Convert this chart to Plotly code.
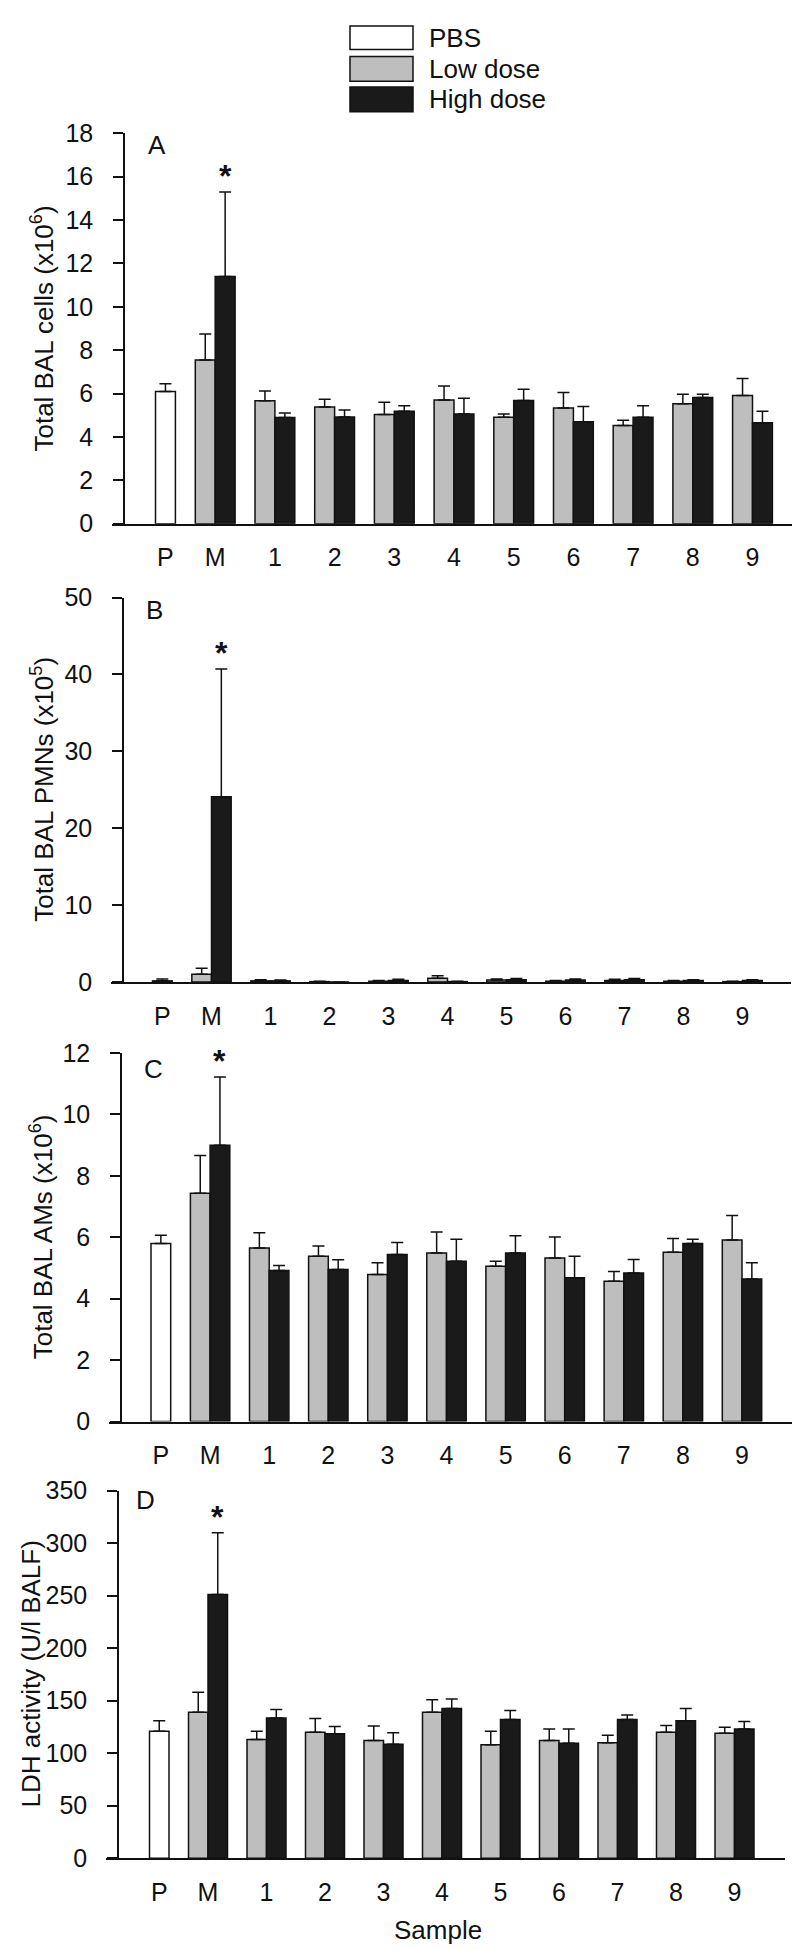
import plotly.graph_objects as go

# ---------------- data ----------------
categories = ["P", "M", "1", "2", "3", "4", "5", "6", "7", "8", "9"]
series_names = ["PBS", "Low dose", "High dose"]

# Panel A: Total BAL cells (x10^6)
pbs_A = [6.1] + [None] * 10
pbs_A_err = [0.35] + [0] * 10
low_A = [None, 7.55, 5.67, 5.38, 5.03, 5.71, 4.91, 5.33, 4.53, 5.53, 5.91]
low_A_err = [0, 1.2, 0.45, 0.36, 0.57, 0.64, 0.15, 0.72, 0.24, 0.44, 0.79]
high_A = [None, 11.4, 4.9, 4.92, 5.18, 5.06, 5.68, 4.7, 4.91, 5.82, 4.65]
high_A_err = [0, 3.9, 0.2, 0.32, 0.26, 0.73, 0.52, 0.71, 0.53, 0.15, 0.53]

# Panel B: Total BAL PMNs (x10^5)
pbs_B = [0.15] + [None] * 10
pbs_B_err = [0.25] + [0] * 10
low_B = [None, 1.0, 0.15, 0.05, 0.1, 0.5, 0.25, 0.1, 0.2, 0.1, 0.05]
low_B_err = [0, 0.8, 0.15, 0.05, 0.1, 0.3, 0.15, 0.1, 0.15, 0.1, 0.05]
high_B = [None, 24.1, 0.15, 0.0, 0.2, 0.05, 0.3, 0.25, 0.3, 0.2, 0.2]
high_B_err = [0, 16.6, 0.1, 0.0, 0.15, 0.05, 0.15, 0.15, 0.15, 0.1, 0.1]

# Panel C: Total BAL AMs (x10^6)
pbs_C = [5.8] + [None] * 10
pbs_C_err = [0.27] + [0] * 10
low_C = [None, 7.43, 5.65, 5.38, 4.79, 5.49, 5.06, 5.33, 4.57, 5.51, 5.91]
low_C_err = [0, 1.23, 0.5, 0.34, 0.38, 0.68, 0.16, 0.68, 0.32, 0.45, 0.8]
high_C = [None, 9.0, 4.92, 4.95, 5.44, 5.22, 5.49, 4.68, 4.84, 5.8, 4.64]
high_C_err = [0, 2.22, 0.16, 0.32, 0.39, 0.72, 0.56, 0.7, 0.44, 0.14, 0.53]

# Panel D: LDH activity (U/l BALF)
pbs_D = [121] + [None] * 10
pbs_D_err = [10] + [0] * 10
low_D = [None, 139, 113, 120, 112, 139, 108, 112, 110, 120, 119]
low_D_err = [0, 19, 8, 13, 14, 12, 13, 11, 7, 6.5, 5.7]
high_D = [None, 251, 133.5, 118.5, 108.5, 142.5, 132, 109.5, 132, 131, 123]
high_D_err = [0, 59, 8, 7, 11, 9, 8.6, 13.6, 4.3, 11.5, 7.2]

y_titles = ["Total BAL cells (x10<sup>6</sup>)", "Total BAL PMNs (x10<sup>5</sup>)",
            "Total BAL AMs (x10<sup>6</sup>)", "LDH activity (U/l BALF)"]
panel_letters = ["A", "B", "C", "D"]
y_max = [18, 50, 12, 350]
y_dtick = [2, 10, 2, 50]
x_title = "Sample"

panels_data = [
    (pbs_A, pbs_A_err, low_A, low_A_err, high_A, high_A_err),
    (pbs_B, pbs_B_err, low_B, low_B_err, high_B, high_B_err),
    (pbs_C, pbs_C_err, low_C, low_C_err, high_C, high_C_err),
    (pbs_D, pbs_D_err, low_D, low_D_err, high_D, high_D_err),
]

# ---------------- layout geometry (pixels) ----------------
W, H = 800, 1950
geom = [
    dict(yx=116, xs=104, xe=795, pc=147.5, sp=59.7, yt=113, y0=509, tx=35, lx=149, ly=125),
    dict(yx=115, xs=103, xe=783, pc=144.5, sp=59.0, yt=584, y0=974, tx=35, lx=146, ly=597),
    dict(yx=113, xs=101, xe=788, pc=143.0, sp=59.1, yt=1046, y0=1420, tx=33, lx=145, ly=1062),
    dict(yx=110, xs=98, xe=777, pc=141.5, sp=58.5, yt=1490, y0=1863, tx=23, lx=137, ly=1500),
]

FONT = "Liberation Sans, Arial, Helvetica, sans-serif"
TICK_SIZE = 25
TITLE_SIZE = 26
BAR_W = 1 / 3
colors = {"PBS": "#ffffff", "Low dose": "#bebebe", "High dose": "#1a1a1a"}
offsets = {"PBS": 0.0, "Low dose": -BAR_W, "High dose": 0.0}

xpos = list(range(len(categories)))

fig = go.Figure()
layout_axes = {}
annotations = []

for i, (data, g) in enumerate(zip(panels_data, geom)):
    xa = "x" if i == 0 else f"x{i+1}"
    ya = "y" if i == 0 else f"y{i+1}"
    series = [(series_names[0], data[0], data[1]),
              (series_names[1], data[2], data[3]),
              (series_names[2], data[4], data[5])]
    for name, vals, errs in series:
        fig.add_trace(go.Bar(
            x=xpos, y=vals, name=name, showlegend=False,
            width=BAR_W, offset=offsets[name],
            marker=dict(color=colors[name], line=dict(color="#111111", width=1.5)),
            error_y=dict(type="data", symmetric=False, array=errs,
                         arrayminus=[0] * len(errs), color="#111111",
                         thickness=1.5, width=6),
            xaxis=xa, yaxis=ya,
        ))
    r0 = (g["xs"] - g["pc"]) / g["sp"]
    r1 = (g["xe"] - g["pc"]) / g["sp"]
    tickvals = [xpos[0] + BAR_W / 2] + xpos[1:]
    layout_axes["xaxis" if i == 0 else f"xaxis{i+1}"] = dict(
        domain=[g["xs"] / W, g["xe"] / W], range=[r0, r1], anchor=ya,
        showline=True, linecolor="#111111", linewidth=1.5, ticks="",
        tickvals=tickvals, ticktext=categories, showgrid=False, zeroline=False,
        tickfont=dict(size=TICK_SIZE, family=FONT, color="#111111"), ticklabelstandoff=11,
        fixedrange=True,
    )
    layout_axes["yaxis" if i == 0 else f"yaxis{i+1}"] = dict(
        domain=[1 - g["y0"] / H, 1 - g["yt"] / H], range=[0, y_max[i]], dtick=y_dtick[i],
        anchor="free", position=g["yx"] / W,
        showline=True, linecolor="#111111", linewidth=1.5, ticks="outside",
        ticklen=10, tickwidth=1.5, tickcolor="#111111", showgrid=False, zeroline=False,
        tickfont=dict(size=TICK_SIZE, family=FONT, color="#111111"), ticklabelstandoff=15,
        fixedrange=True,
    )
    annotations.append(dict(
        text=y_titles[i], textangle=-90, xref="paper", yref="paper",
        x=g["tx"] / W, y=1 - (g["yt"] + g["y0"]) / 2 / H, xanchor="center", yanchor="middle",
        showarrow=False, font=dict(size=TITLE_SIZE, family=FONT, color="#111111"),
    ))
    annotations.append(dict(
        text=panel_letters[i], xref="paper", yref="paper",
        x=g["lx"] / W, y=1 - g["ly"] / H, xanchor="center", yanchor="middle",
        showarrow=False, font=dict(size=TITLE_SIZE, family=FONT, color="#111111"),
    ))
    annotations.append(dict(
        text="<b>*</b>", xref=xa, yref=ya,
        x=xpos[1] + BAR_W / 2, y=data[4][1] + data[5][1], xanchor="center", yanchor="bottom",
        yshift=-4, showarrow=False, font=dict(size=32, family=FONT, color="#111111"),
    ))

# x-axis title under the bottom panel
annotations.append(dict(
    text=x_title, xref="paper", yref="paper", x=430 / W, y=1 - 1936 / H,
    xanchor="center", yanchor="middle", showarrow=False,
    font=dict(size=TITLE_SIZE, family=FONT, color="#111111"),
))

# manual legend
shapes = []
leg_rows = [(series_names[0], 4, 28), (series_names[1], 35, 60), (series_names[2], 66, 91)]
for name, t, b in leg_rows:
    shapes.append(dict(type="rect", xref="paper", yref="paper",
                       x0=342 / W, x1=405 / W, y0=1 - b / H, y1=1 - t / H,
                       fillcolor=colors[name], line=dict(color="#111111", width=1.5)))
    annotations.append(dict(text=name, xref="paper", yref="paper",
                            x=419 / W, y=1 - (t + b) / 2 / H, xanchor="left", yanchor="middle",
                            showarrow=False, font=dict(size=TITLE_SIZE, family=FONT, color="#111111")))

fig.update_layout(
    width=W, height=H, margin=dict(l=0, r=0, t=0, b=0),
    paper_bgcolor="white", plot_bgcolor="white",
    barmode="overlay", showlegend=False,
    annotations=annotations, shapes=shapes,
    font=dict(family=FONT, color="#111111"),
    **layout_axes,
)

fig.write_html("out.html")
